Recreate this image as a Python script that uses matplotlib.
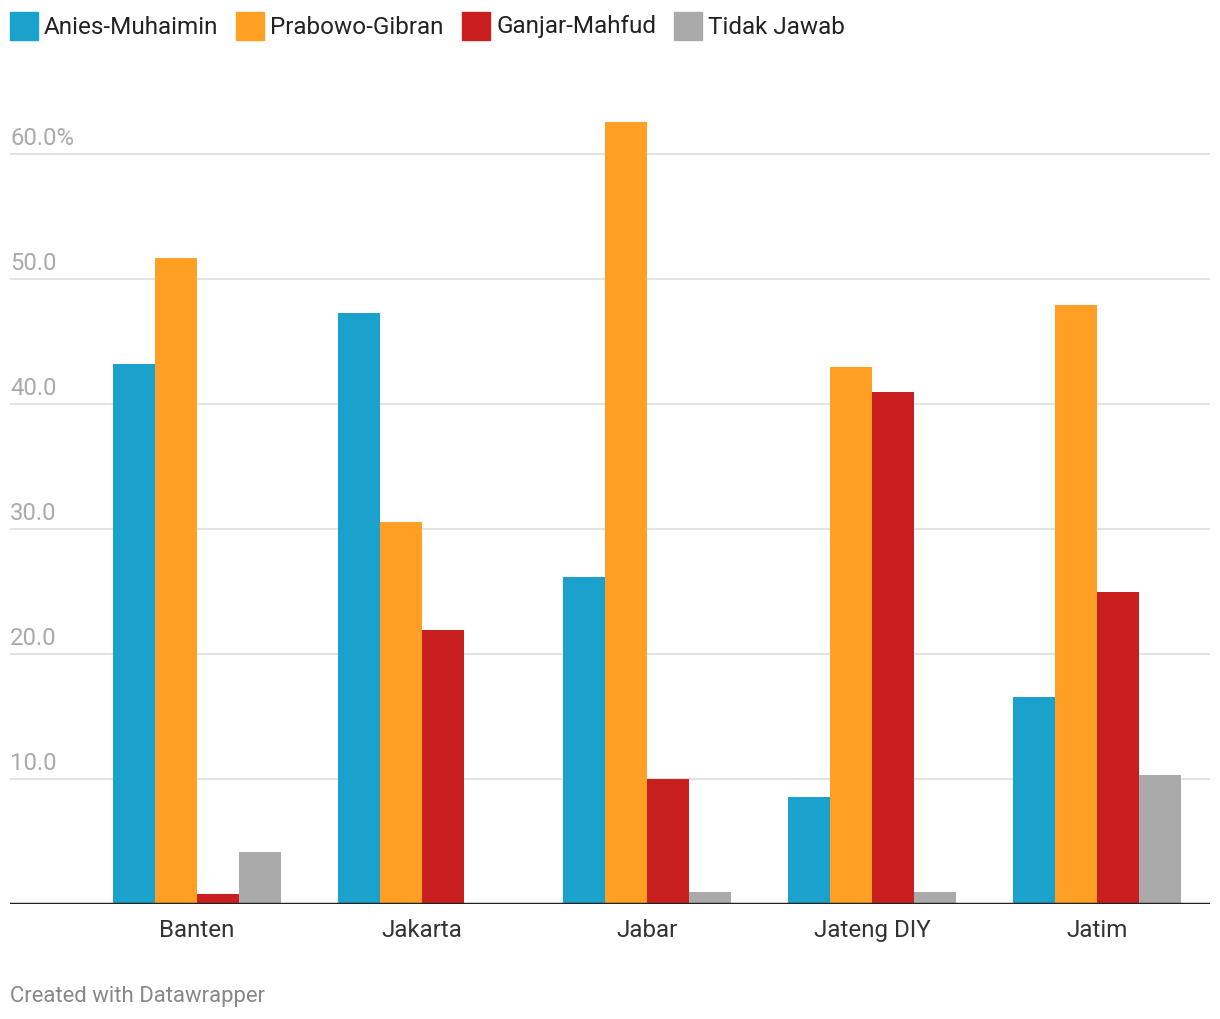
import numpy as np
import matplotlib.pyplot as plt
from matplotlib.patches import Rectangle

plt.rcParams['font.family'] = ['Roboto', 'DejaVu Sans']

regions = ['Banten', 'Jakarta', 'Jabar', 'Jateng DIY', 'Jatim']
series = ['Anies-Muhaimin', 'Prabowo-Gibran', 'Ganjar-Mahfud', 'Tidak Jawab']
anies = [43.2, 47.3, 26.2, 8.6, 16.6]
prabowo = [51.7, 30.6, 62.6, 43.0, 47.9]
ganjar = [0.8, 21.9, 10.0, 41.0, 25.0]
tidak = [4.2, 0.0, 1.0, 1.0, 10.3]
colors = ['#1aa1cc', '#ffa024', '#c91f1f', '#aaaaaa']
yticks = [10, 20, 30, 40, 50, 60]

W, H = 1220, 1020
fig = plt.figure(figsize=(W / 100, H / 100), dpi=100)
ax = fig.add_axes([10 / W, 115 / H, 1200 / W, 812.5 / H])

x = np.arange(len(regions))
bw = 42 / 225
for i, vals in enumerate([anies, prabowo, ganjar, tidak]):
    ax.bar(x + (i - 1.5) * bw, vals, width=bw, color=colors[i], zorder=3, linewidth=0)

ax.set_xlim(-187 / 225, 4 + 113 / 225)
ax.set_ylim(0, 65)

# gridlines + labels above them
for t in yticks:
    ax.axhline(t, color='#e3e3e3', lw=1.5, zorder=1)
    lab = '{:.1f}%'.format(t) if t == yticks[-1] else '{:.1f}'.format(t)
    ax.text(0, t + 1.3, lab, transform=ax.get_yaxis_transform(), ha='left', va='center',
            fontsize=17.2, color='#aaaaaa')
ax.axhline(0, color='#222222', lw=2.5, zorder=4)

for s in ax.spines.values():
    s.set_visible(False)
ax.set_yticks([])
ax.set_xticks(x)
ax.set_xticklabels(regions, fontsize=17.4, color='#333333')
ax.tick_params(axis='x', length=0, pad=10)

# legend drawn by hand
leg_x = [10, 236, 462, 674]
for i, name in enumerate(series):
    fig.patches.append(Rectangle((leg_x[i] / W, 1 - 41 / H), 28 / W, 28 / H,
                                 transform=fig.transFigure, color=colors[i]))
    fig.text((leg_x[i] + 34) / W, 1 - 27 / H, name, ha='left', va='center',
             fontsize=17.5, color='#222222')

fig.text(10 / W, 1 - 997 / H, 'Created with Datawrapper', ha='left', va='center',
         fontsize=15.9, color='#888888')

plt.savefig('out.png', dpi=100)
